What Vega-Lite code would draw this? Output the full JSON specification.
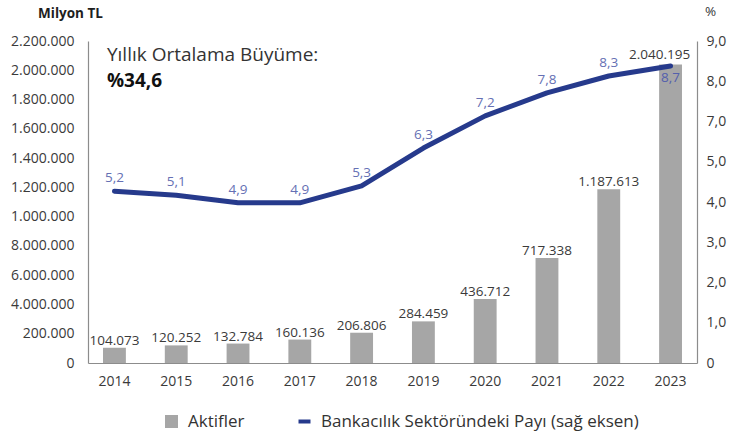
{
  "$schema": "https://vega.github.io/schema/vega-lite/v6.json",
  "width": 609,
  "height": 322,
  "autosize": {"type": "none"},
  "padding": {"left": 88, "top": 41, "right": 39, "bottom": 73},
  "background": "#ffffff",
  "data": {
    "values": [
      {"yil": "2014", "aktif": 104073, "aktifEtiket": "104.073", "pay": 4.27, "payEtiket": "5,2"},
      {"yil": "2015", "aktif": 120252, "aktifEtiket": "120.252", "pay": 4.17, "payEtiket": "5,1"},
      {"yil": "2016", "aktif": 132784, "aktifEtiket": "132.784", "pay": 3.98, "payEtiket": "4,9"},
      {"yil": "2017", "aktif": 160136, "aktifEtiket": "160.136", "pay": 3.98, "payEtiket": "4,9"},
      {"yil": "2018", "aktif": 206806, "aktifEtiket": "206.806", "pay": 4.40, "payEtiket": "5,3"},
      {"yil": "2019", "aktif": 284459, "aktifEtiket": "284.459", "pay": 5.34, "payEtiket": "6,3"},
      {"yil": "2020", "aktif": 436712, "aktifEtiket": "436.712", "pay": 6.14, "payEtiket": "7,2"},
      {"yil": "2021", "aktif": 717338, "aktifEtiket": "717.338", "pay": 6.71, "payEtiket": "7,8"},
      {"yil": "2022", "aktif": 1187613, "aktifEtiket": "1.187.613", "pay": 7.13, "payEtiket": "8,3"},
      {"yil": "2023", "aktif": 2040195, "aktifEtiket": "2.040.195", "pay": 7.38, "payEtiket": "8,7"}
    ]
  },
  "encoding": {
    "x": {
      "field": "yil",
      "type": "ordinal",
      "scale": {
        "domain": ["2014", "2015", "2016", "2017", "2018", "2019", "2020", "2021", "2022", "2023"],
        "paddingInner": 0.63,
        "paddingOuter": 0.243
      },
      "axis": {
        "title": null,
        "labelAngle": 0,
        "ticks": false,
        "domain": true,
        "domainColor": "#8c8c8c",
        "domainWidth": 1.2,
        "labelPadding": 11,
        "labelFontSize": 14,
        "labelColor": "#3a3a3a"
      }
    }
  },
  "layer": [
    {
      "encoding": {
        "y": {
          "field": "aktif",
          "type": "quantitative",
          "scale": {"domain": [0, 2200000], "nice": false, "zero": true},
          "axis": {
            "orient": "left",
            "title": "Milyon TL",
            "titleAngle": 0,
            "titleX": -18,
            "titleY": -28,
            "titleAlign": "center",
            "titleBaseline": "middle",
            "titleFontWeight": "bold",
            "titleFontSize": 13.5,
            "titleColor": "#1e1e1e",
            "values": [0, 200000, 400000, 600000, 800000, 1000000, 1200000, 1400000, 1600000, 1800000, 2000000, 2200000],
            "labelExpr": "datum.value == 0 ? '0' : datum.value == 200000 ? '200.000' : datum.value == 400000 ? '4.000.000' : datum.value == 600000 ? '6.000.000' : datum.value == 800000 ? '8.000.000' : datum.value == 1000000 ? '1.000.000' : datum.value == 1200000 ? '1.200.000' : datum.value == 1400000 ? '1.400.000' : datum.value == 1600000 ? '1.600.000' : datum.value == 1800000 ? '1.800.000' : datum.value == 2000000 ? '2.000.000' : '2.200.000'",
            "labelOverlap": false,
            "labelSeparation": 0,
            "grid": false,
            "ticks": false,
            "domain": true,
            "domainColor": "#8c8c8c",
            "domainWidth": 1.2,
            "labelPadding": 14,
            "labelFontSize": 14,
            "labelColor": "#3a3a3a"
          }
        }
      },
      "layer": [
        {
          "mark": {"type": "bar"},
          "encoding": {
            "fill": {
              "datum": "Aktifler",
              "type": "nominal",
              "scale": {"range": ["#a6a6a6"]},
              "legend": {
                "title": null,
                "orient": "none",
                "legendX": 75,
                "legendY": 372,
                "symbolType": "square",
                "symbolSize": 169,
                "symbolStrokeWidth": 0,
                "labelFontSize": 17,
                "labelColor": "#333333",
                "labelOffset": 8,
                "labelLimit": 0,
                "labelFont": "Open Sans"
              }
            }
          }
        },
        {
          "transform": [{"filter": "datum.yil != '2023'"}],
          "mark": {"type": "text", "baseline": "alphabetic", "dy": -3, "fontSize": 13.5, "color": "#3a3a3a"},
          "encoding": {
            "text": {"field": "aktifEtiket", "type": "nominal"}
          }
        },
        {
          "transform": [{"filter": "datum.yil == '2023'"}],
          "mark": {"type": "text", "baseline": "alphabetic", "dy": -5, "dx": -11, "fontSize": 13.5, "color": "#3a3a3a"},
          "encoding": {
            "text": {"field": "aktifEtiket", "type": "nominal"}
          }
        }
      ]
    },
    {
      "layer": [
        {
          "mark": {"type": "line", "strokeWidth": 5, "strokeCap": "round", "strokeJoin": "round"},
          "encoding": {
            "y": {
              "field": "pay",
              "type": "quantitative",
              "scale": {"domain": [0, 8], "nice": false, "zero": true},
              "axis": {
                "orient": "right",
                "title": "%",
                "titleAngle": 0,
                "titleX": 13,
                "titleY": -30,
                "titleAlign": "center",
                "titleBaseline": "middle",
                "titleFontWeight": "normal",
                "titleFontSize": 13.5,
                "titleColor": "#3a3a3a",
                "values": [0, 1, 2, 3, 4, 5, 6, 7, 8],
                "labelExpr": "datum.value == 0 ? '0' : datum.value <= 5 ? datum.value + ',0' : (datum.value + 1) + ',0'",
                "labelOverlap": false,
                "grid": false,
                "ticks": false,
                "domain": true,
                "domainColor": "#8c8c8c",
                "domainWidth": 1.2,
                "labelPadding": 9,
                "labelFontSize": 14,
                "labelColor": "#3a3a3a"
              }
            },
            "stroke": {
              "datum": "Bankacılık Sektöründeki Payı (sağ eksen)",
              "type": "nominal",
              "scale": {"range": ["#263a8c"]},
              "legend": {
                "title": null,
                "orient": "none",
                "legendX": 208,
                "legendY": 372,
                "symbolType": "stroke",
                "symbolSize": 144,
                "symbolStrokeWidth": 4,
                "labelFontSize": 17,
                "labelColor": "#333333",
                "labelOffset": 8,
                "labelLimit": 0,
                "labelFont": "Open Sans"
              }
            }
          }
        },
        {
          "transform": [{"filter": "datum.yil != '2023'"}],
          "mark": {"type": "text", "baseline": "middle", "dy": -13, "fontSize": 13.5, "color": "#6570b4"},
          "encoding": {
            "y": {"field": "pay", "type": "quantitative"},
            "text": {"field": "payEtiket", "type": "nominal"}
          }
        },
        {
          "transform": [{"filter": "datum.yil == '2023'"}],
          "mark": {"type": "text", "baseline": "middle", "dy": 12, "fontSize": 13.5, "color": "#5460ad"},
          "encoding": {
            "y": {"field": "pay", "type": "quantitative"},
            "text": {"field": "payEtiket", "type": "nominal"}
          }
        },
        {
          "data": {"values": [{"metin": "Yıllık Ortalama Büyüme:"}]},
          "mark": {"type": "text", "align": "left", "baseline": "middle", "dx": -7.5, "fontSize": 19, "color": "#333333"},
          "encoding": {
            "x": {"datum": "2014", "type": "ordinal"},
            "y": {"datum": 7.65, "type": "quantitative"},
            "text": {"field": "metin", "type": "nominal"}
          }
        },
        {
          "data": {"values": [{"metin": "%34,6"}]},
          "mark": {"type": "text", "align": "left", "baseline": "middle", "dx": -7.5, "fontSize": 19, "fontWeight": "bold", "color": "#111111"},
          "encoding": {
            "x": {"datum": "2014", "type": "ordinal"},
            "y": {"datum": 7.01, "type": "quantitative"},
            "text": {"field": "metin", "type": "nominal"}
          }
        }
      ]
    }
  ],
  "resolve": {"scale": {"y": "independent"}},
  "config": {
    "view": {"stroke": null},
    "font": "Open Sans",
    "text": {"font": "Open Sans"},
    "axis": {"labelFont": "Open Sans", "titleFont": "Open Sans"}
  }
}
